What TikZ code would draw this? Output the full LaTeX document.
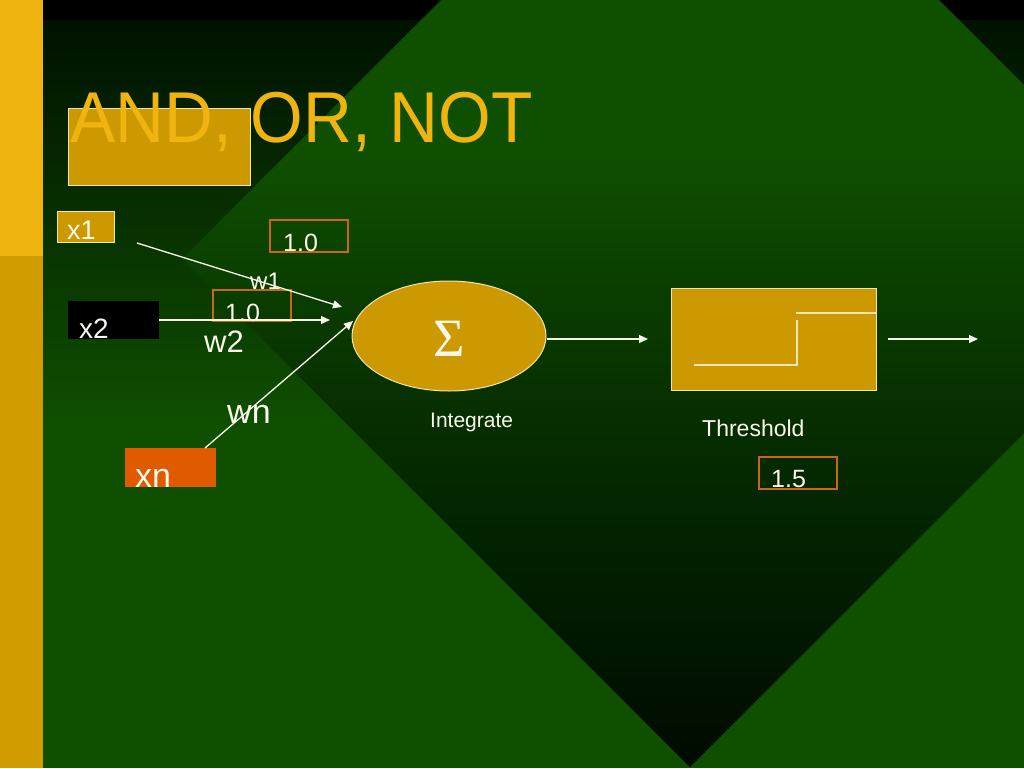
\documentclass[tikz,border=0pt]{standalone}
\usepackage{fontspec}
\setmainfont{Liberation Sans}
\newfontfamily\sigmafont{Liberation Serif}
\usetikzlibrary{arrows.meta,shapes.geometric}

\definecolor{leaf}{RGB}{15,80,0}
\definecolor{moss}{RGB}{10,60,0}
\definecolor{fern}{RGB}{6,46,0}
\definecolor{glen}{RGB}{2,34,0}
\definecolor{night}{RGB}{0,10,0}
\definecolor{dusk}{RGB}{0,18,0}
\definecolor{gold}{RGB}{204,153,0}
\definecolor{sun}{RGB}{240,180,16}
\definecolor{amber}{RGB}{208,156,0}
\definecolor{rust}{RGB}{204,102,16}
\definecolor{ember}{RGB}{224,90,0}
\definecolor{cream}{RGB}{238,228,180}
\definecolor{chalk}{RGB}{248,248,236}

\pgfdeclareverticalshading{gem}{100bp}{color(0bp)=(night); color(25bp)=(night);
  color(36.2bp)=(glen); color(42.1bp)=(fern); color(48bp)=(moss);
  color(55.4bp)=(leaf); color(100bp)=(leaf)}

\newcommand{\fs}[1]{\fontsize{#1}{#1}\selectfont}

\tikzset{
  goldbox/.style={draw=cream, fill=gold, line width=1pt, inner sep=0},
  valbox/.style={draw=rust, line width=1.3pt, inner sep=0},
  lbl/.style={anchor=base west, inner sep=0, text=chalk},
  wire/.style={draw=chalk, line width=1.3pt, -{Triangle[length=9pt,width=8pt]}},
  stepline/.style={draw=cream, line width=1.2pt}
}

\begin{document}
\begin{tikzpicture}[x=1pt,y=-1pt]
  \useasboundingbox (0,0) rectangle (1024,768);

  \fill[black] (0,0) rectangle (1024,768);
  \shade[top color=dusk, bottom color=leaf] (0,21) rectangle (1024,430);
  \fill[leaf] (0,430) rectangle (1024,768);
  \shade[shading=gem] (182,259) -- (690,-249) -- (1198,259) -- (690,767) -- cycle;

  \fill[sun] (0,0) rectangle (43,256);
  \fill[amber] (0,256) rectangle (43,768);

  \node[goldbox, minimum width=182, minimum height=77] (tbox) at (159,146.5) {};
  \node[lbl, text=sun, font=\fs{72}, xscale=0.94, transform shape] (title) at (70,142) {AND, OR, NOT};

  \node[goldbox, minimum width=57, minimum height=31] (x1) at (85.5,226.5) {};
  \node[lbl, font=\fs{27}] (x1txt) at (67,239) {x1};
  \node[fill=black, minimum width=91, minimum height=38, inner sep=0] (x2) at (113.5,320) {};
  \node[lbl, font=\fs{28}] (x2txt) at (79,338) {x2};
  \node[fill=ember, minimum width=91, minimum height=39, inner sep=0] (xn) at (170.5,467.5) {};
  \node[lbl, font=\fs{34}] (xntxt) at (135,487) {xn};

  \node[valbox, minimum width=78, minimum height=32] (v1) at (309,236) {};
  \node[lbl, font=\fs{25}] (v1txt) at (283,251) {1.0};
  \node[valbox, minimum width=78, minimum height=31] (v2) at (252,305.5) {};
  \node[lbl, font=\fs{25}] (v2txt) at (225,321) {1.0};
  \node[valbox, minimum width=78, minimum height=32] (v3) at (798,473) {};
  \node[lbl, font=\fs{25}] (v3txt) at (771,487) {1.5};

  \node[lbl, font=\fs{24}] (w1) at (250,289) {w1};
  \node[lbl, font=\fs{31}] (w2) at (204,352) {w2};
  \node[lbl, font=\fs{34}] (wn) at (227,423) {wn};

  \node[goldbox, ellipse, minimum width=194, minimum height=110] (sum) at (449,336) {};
  \node[text=chalk, inner sep=0, font=\sigmafont\fs{54}] (sig) at (449,338.5) {Σ};
  \node[lbl, font=\fs{21}] (integ) at (430,427) {Integrate};

  \node[goldbox, minimum width=205, minimum height=102] (thr) at (773.5,339) {};
  \draw[stepline] (694,365) -- (797,365) -- (797,320);
  \draw[stepline] (796,313) -- (876,313);
  \node[lbl, font=\fs{23}] (thrtxt) at (702,436) {Threshold};

  \coordinate (x1out) at (137,243);
  \coordinate (in1) at (342,307);
  \coordinate (in2) at (330,320);
  \coordinate (xnout) at (205,448);
  \coordinate (in3) at (353,321);
  \coordinate (thin) at (648,339);
  \coordinate (outs) at (888,339);
  \coordinate (oute) at (978,339);

  \draw[wire] (x1out) -- (in1);
  \draw[wire] (x2.east) -- (in2);
  \draw[wire] (xnout) -- (in3);
  \draw[wire] (sum.east |- thin) -- (thin);
  \draw[wire] (outs) -- (oute);

\end{tikzpicture}
\end{document}
